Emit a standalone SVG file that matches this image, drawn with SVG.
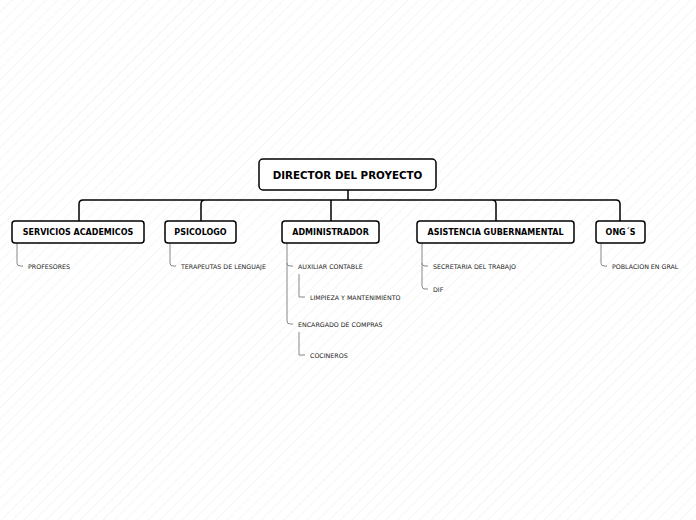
<svg xmlns="http://www.w3.org/2000/svg" width="696" height="520" viewBox="0 0 696 520">
<style>
.box{fill:#fff;stroke:#000;stroke-width:1.5}
.t{font-family:"DejaVu Sans",Verdana,sans-serif;font-weight:bold;font-size:8px;fill:#000}
.rt{font-family:"DejaVu Sans",Verdana,sans-serif;font-weight:bold;font-size:10.3px;fill:#000}
.s{font-family:"DejaVu Sans",Verdana,sans-serif;font-size:6.3px;fill:#222}
.c{fill:none;stroke:#000;stroke-width:1.5}
.sc{fill:none;stroke:#888;stroke-width:1}
</style>
<defs>
<pattern id="bg" width="8" height="8" patternUnits="userSpaceOnUse" patternTransform="rotate(45)">
<rect width="8" height="8" fill="#fff"/>
<line x1="0" y1="0" x2="0" y2="8" stroke="#eeeeee" stroke-width="1"/>
</pattern>
</defs>
<rect width="696" height="520" fill="url(#bg)"/>
<g id="connectors">
<path class="c" d="M348 190V200M79 221V204Q79 200 83 200H616Q620 200 620 204V221M201 221V204Q201 200 205 200M331 221V200M496 221V204Q496 200 492 200"/>
<path class="sc" d="M17 243V263Q17 266 20 266H23"/>
<path class="sc" d="M170 243V263Q170 266 173 266H176"/>
<path class="sc" d="M287 243V321Q287 324 290 324H293M287 263Q287 266 290 266H293"/>
<path class="sc" d="M299 274V297H305M299 332V355H305"/>
<path class="sc" d="M422 243V286Q422 289 425 289H428M422 263Q422 266 425 266H428"/>
<path class="sc" d="M601 243V263Q601 266 604 266H607"/>
</g>
<g id="root"><rect class="box" x="259" y="159" width="177" height="31" rx="4"/><text class="rt" x="347.5" y="179" text-anchor="middle">DIRECTOR DEL PROYECTO</text></g>
<g id="n1"><rect class="box" x="12" y="221" width="132" height="22" rx="3"/><text class="t" x="78" y="235" text-anchor="middle">SERVICIOS ACADEMICOS</text></g>
<g id="n2"><rect class="box" x="165" y="221" width="71" height="22" rx="3"/><text class="t" x="200.5" y="235" text-anchor="middle">PSICOLOGO</text></g>
<g id="n3"><rect class="box" x="282" y="221" width="97" height="22" rx="3"/><text class="t" x="330.5" y="235" text-anchor="middle">ADMINISTRADOR</text></g>
<g id="n4"><rect class="box" x="417" y="221" width="157" height="22" rx="3"/><text class="t" x="495.5" y="235" text-anchor="middle">ASISTENCIA GUBERNAMENTAL</text></g>
<g id="n5"><rect class="box" x="596" y="221" width="49" height="22" rx="3"/><text class="t" x="620.5" y="235" text-anchor="middle">ONG´S</text></g>
<g id="leaves">
<text class="s" x="28" y="269">PROFESORES</text>
<text class="s" x="181" y="269">TERAPEUTAS DE LENGUAJE</text>
<text class="s" x="298" y="269">AUXILIAR CONTABLE</text>
<text class="s" x="310" y="300">LIMPIEZA Y MANTENIMIENTO</text>
<text class="s" x="298" y="327">ENCARGADO DE COMPRAS</text>
<text class="s" x="310" y="358">COCINEROS</text>
<text class="s" x="433" y="269">SECRETARIA DEL TRABAJO</text>
<text class="s" x="433" y="292">DIF</text>
<text class="s" x="612" y="269">POBLACION EN GRAL</text>
</g>
</svg>
